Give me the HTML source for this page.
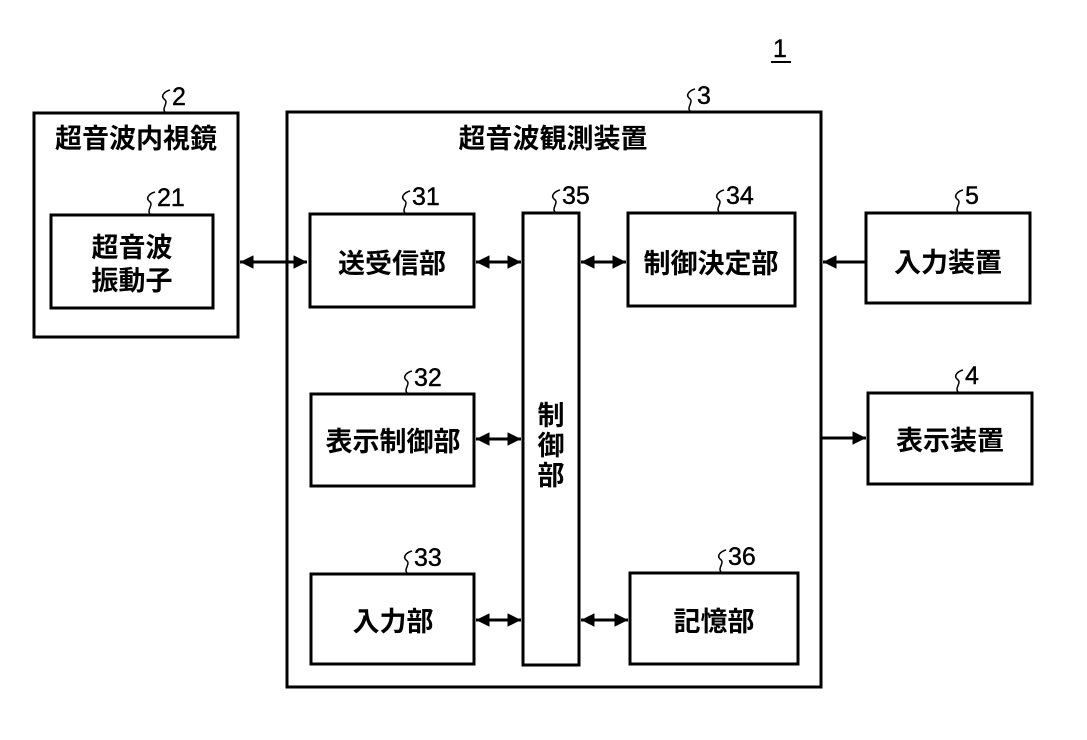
<!DOCTYPE html>
<html><head><meta charset="utf-8"><style>
html,body{margin:0;padding:0;background:#fff;width:1087px;height:740px;overflow:hidden}
text{font-family:"Liberation Sans","Noto Sans CJK JP",sans-serif;fill:#000}
</style></head><body>
<svg width="1087" height="740" viewBox="0 0 1087 740" xmlns="http://www.w3.org/2000/svg">
<defs>
<marker id="a" viewBox="0 0 10 10" refX="10" refY="5" markerWidth="4.5" markerHeight="4.5" orient="auto-start-reverse"><path d="M0,0 L10,5 L0,10 z" fill="#000"/></marker>
</defs>
<g fill="none" stroke="#000" stroke-width="3">
<rect x="34" y="113" width="204" height="224"/>
<rect x="51" y="215" width="162" height="93"/>
<rect x="287" y="112" width="534" height="575"/>
<rect x="310" y="214" width="164" height="93"/>
<rect x="523" y="213" width="56" height="452"/>
<rect x="628" y="213" width="167" height="93"/>
<rect x="866" y="213" width="164" height="90"/>
<rect x="311" y="394" width="163" height="92"/>
<rect x="868" y="393" width="164" height="91"/>
<rect x="311" y="574" width="163" height="90"/>
<rect x="630" y="573" width="168" height="91"/>
</g>
<g stroke="#000" stroke-width="3" fill="none">
<line x1="240" y1="262" x2="307" y2="262" marker-start="url(#a)" marker-end="url(#a)"/>
<line x1="476" y1="262" x2="521" y2="262" marker-start="url(#a)" marker-end="url(#a)"/>
<line x1="581" y1="262" x2="626" y2="262" marker-start="url(#a)" marker-end="url(#a)"/>
<line x1="866" y1="262" x2="823" y2="262" marker-end="url(#a)"/>
<line x1="476" y1="439" x2="521" y2="439" marker-start="url(#a)" marker-end="url(#a)"/>
<line x1="821" y1="438" x2="866" y2="438" marker-end="url(#a)"/>
<line x1="476" y1="620" x2="521" y2="620" marker-start="url(#a)" marker-end="url(#a)"/>
<line x1="581" y1="620" x2="628" y2="620" marker-start="url(#a)" marker-end="url(#a)"/>
</g>
<g stroke="#000" stroke-width="1.5" fill="none">
<path d="M166,113 c-6,-5 4,-10 -2,-14 c-4,-4 2,-8 6,-9"/>
<path d="M151,215 c-6,-5 4,-10 -2,-14 c-4,-4 2,-8 6,-9"/>
<path d="M691,112 c-6,-5 4,-10 -2,-14 c-4,-4 2,-8 6,-9"/>
<path d="M406,214 c-6,-5 4,-10 -2,-14 c-4,-4 2,-8 6,-9"/>
<path d="M556,213 c-6,-5 4,-10 -2,-14 c-4,-4 2,-8 6,-9"/>
<path d="M720,213 c-6,-5 4,-10 -2,-14 c-4,-4 2,-8 6,-9"/>
<path d="M959,213 c-6,-5 4,-10 -2,-14 c-4,-4 2,-8 6,-9"/>
<path d="M408,394 c-6,-5 4,-10 -2,-14 c-4,-4 2,-8 6,-9"/>
<path d="M959,393 c-6,-5 4,-10 -2,-14 c-4,-4 2,-8 6,-9"/>
<path d="M408,574 c-6,-5 4,-10 -2,-14 c-4,-4 2,-8 6,-9"/>
<path d="M722,573 c-6,-5 4,-10 -2,-14 c-4,-4 2,-8 6,-9"/>
<line x1="771" y1="62" x2="791" y2="62" stroke-width="2"/>
</g>
<g font-size="25" stroke="#000" stroke-width="0.4">
<text x="773" y="57">1</text>
<text x="172" y="105">2</text>
<text x="697" y="104">3</text>
<text x="157" y="206">21</text>
<text x="412" y="205">31</text>
<text x="562" y="204">35</text>
<text x="726" y="204">34</text>
<text x="965" y="204">5</text>
<text x="414" y="386">32</text>
<text x="965" y="384">4</text>
<text x="414" y="566">33</text>
<text x="728" y="565">36</text>
</g>
<g font-size="27" font-weight="bold" text-anchor="middle">
<text x="136" y="148">超音波内視鏡</text>
<text x="132" y="257">超音波</text>
<text x="132" y="290">振動子</text>
<text x="553" y="148">超音波観測装置</text>
<text x="392" y="273">送受信部</text>
<text x="711" y="273">制御決定部</text>
<text x="948" y="272">入力装置</text>
<text x="393" y="451">表示制御部</text>
<text x="950" y="450">表示装置</text>
<text x="393" y="631">入力部</text>
<text x="714" y="631">記憶部</text>
<text x="551" y="425">制</text>
<text x="551" y="455">御</text>
<text x="551" y="485">部</text>
</g>
</svg>
</body></html>
